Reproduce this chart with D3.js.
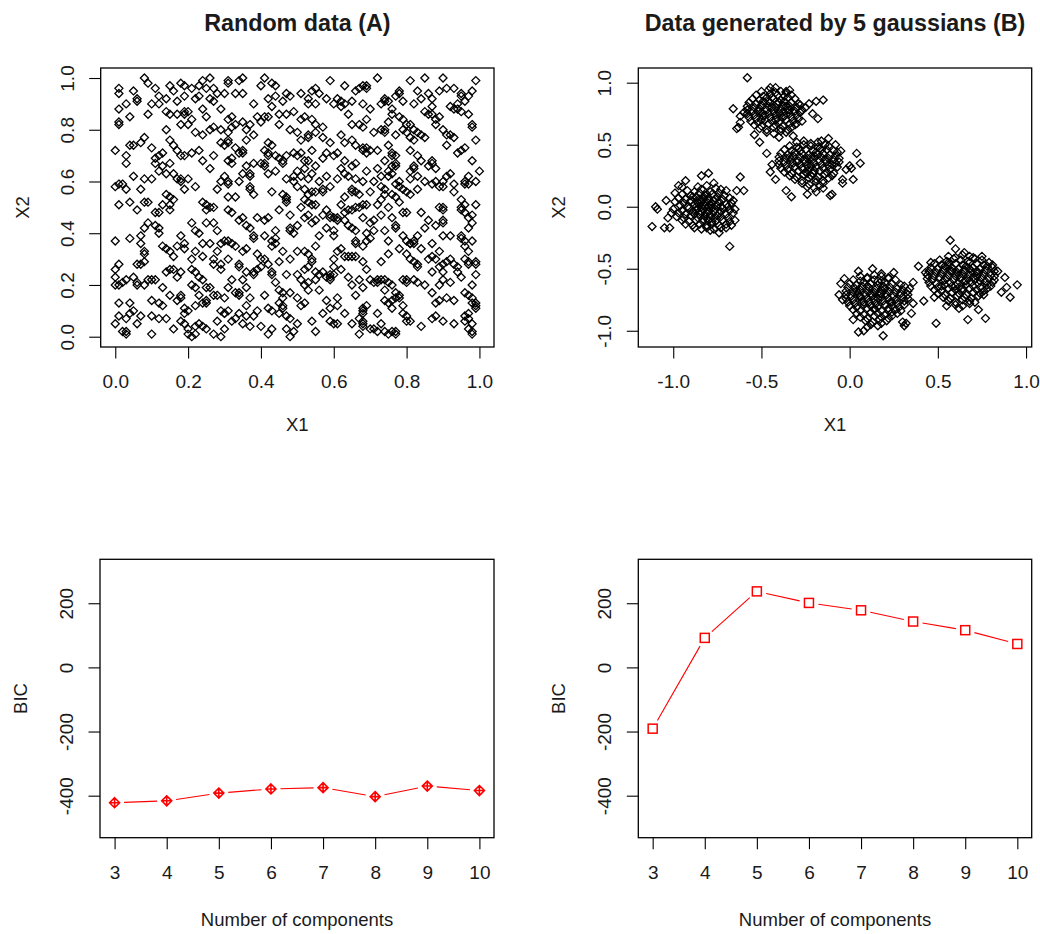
<!DOCTYPE html>
<html>
<head>
<meta charset="utf-8">
<script src="https://cdn.jsdelivr.net/npm/d3@7"></script>
<style>
  body { margin: 0; background: #fff; }
  svg { display: block; }
  text { font-family: "Liberation Sans", Arial, sans-serif; fill: #1a1a1a; }
</style>
</head>
<body>
<svg id="chart" width="1040" height="934"></svg>
<script>
// ---- data ----
const components = [3, 4, 5, 6, 7, 8, 9, 10];
const bicRandom = [-422, -416, -392, -379, -375, -403, -370, -384];
const bicGauss = [-191, 92, 237, 201, 178, 143, 116, 73];

const ticksUnit = [0, 0.2, 0.4, 0.6, 0.8, 1.0];
const ticksB = [-1, -0.5, 0, 0.5, 1];
const ticksBIC = [-400, -200, 0, 200];

// (A) uniform random points
const randomA = [
  [0.00,0.72],[0.01,0.96],[0.01,0.94],[0.01,0.88],[0.03,0.90],[0.05,0.95],[0.04,0.85],[0.06,0.91],[0.06,0.92],[0.01,0.82],
  [0.01,0.83],[0.04,0.74],[0.05,0.74],[0.03,0.70],[0.03,0.67],[0.07,0.75],[0.08,0.77],[0.08,1.00],[0.09,0.98],[0.09,0.86],
  [0.10,0.90],[0.10,0.73],[0.01,0.59],[0.02,0.59],[0.00,0.58],[0.03,0.57],[0.04,0.52],[0.05,0.62],[0.01,0.51],[0.07,0.57],
  [0.08,0.52],[0.09,0.52],[0.06,0.49],[0.08,0.61],[0.10,0.61],[0.09,0.44],[0.08,0.42],[0.07,0.39],[0.04,0.38],[0.00,0.37],
  [0.07,0.36],[0.08,0.33],[0.08,0.32],[0.08,0.29],[0.06,0.28],[0.07,0.28],[0.00,0.26],[0.01,0.28],[0.00,0.23],[0.00,0.20],
  [0.01,0.20],[0.02,0.21],[0.03,0.22],[0.05,0.23],[0.06,0.21],[0.06,0.20],[0.08,0.20],[0.09,0.22],[0.10,0.22],[0.01,0.13],
  [0.04,0.13],[0.05,0.10],[0.04,0.09],[0.07,0.08],[0.01,0.08],[0.03,0.07],[0.00,0.05],[0.06,0.05],[0.02,0.02],[0.03,0.02],
  [0.03,0.01],[0.10,0.01],[0.10,0.08],[0.10,0.14],
  [0.11,0.96],[0.12,0.93],[0.14,0.92],[0.15,0.97],[0.16,0.95],[0.14,0.87],[0.15,0.86],[0.12,0.90],[0.17,0.91],[0.18,0.98],
  [0.19,0.97],[0.19,0.93],[0.17,0.86],[0.19,0.87],[0.20,0.87],[0.19,0.86],[0.18,0.82],[0.20,0.82],[0.14,0.80],[0.15,0.76],
  [0.16,0.74],[0.13,0.71],[0.12,0.70],[0.17,0.72],[0.18,0.70],[0.19,0.70],[0.11,0.69],[0.11,0.67],[0.13,0.66],[0.15,0.67],
  [0.12,0.64],[0.14,0.63],[0.16,0.63],[0.17,0.61],[0.18,0.61],[0.18,0.60],[0.20,0.61],[0.19,0.57],[0.14,0.55],[0.15,0.54],
  [0.13,0.51],[0.15,0.49],[0.15,0.51],[0.11,0.48],[0.12,0.48],[0.16,0.53],[0.11,0.43],[0.12,0.42],[0.12,0.40],[0.13,0.35],
  [0.14,0.34],[0.15,0.33],[0.17,0.35],[0.19,0.34],[0.16,0.31],[0.18,0.39],[0.19,0.36],[0.15,0.26],[0.14,0.25],[0.16,0.26],
  [0.17,0.23],[0.18,0.25],[0.11,0.22],[0.13,0.19],[0.18,0.16],[0.18,0.15],[0.15,0.16],[0.12,0.13],[0.13,0.12],[0.14,0.07],
  [0.12,0.07],[0.17,0.14],[0.19,0.11],[0.19,0.09],[0.20,0.10],[0.18,0.06],[0.19,0.05],[0.20,0.03],[0.20,0.01],[0.16,0.03],
  [0.21,0.96],[0.22,0.92],[0.23,0.93],[0.24,0.99],[0.23,0.97],[0.25,0.96],[0.26,1.00],[0.27,0.96],[0.27,0.91],[0.26,0.92],
  [0.28,0.94],[0.24,0.88],[0.25,0.85],[0.29,0.88],[0.21,0.84],[0.22,0.79],[0.24,0.78],[0.26,0.80],[0.27,0.81],[0.29,0.80],
  [0.23,0.72],[0.21,0.71],[0.24,0.68],[0.27,0.70],[0.29,0.75],[0.26,0.65],[0.29,0.60],[0.28,0.57],[0.22,0.58],[0.24,0.52],
  [0.25,0.51],[0.25,0.49],[0.27,0.50],[0.26,0.50],[0.21,0.44],[0.22,0.41],[0.23,0.40],[0.25,0.44],[0.27,0.44],[0.28,0.41],
  [0.24,0.36],[0.26,0.36],[0.29,0.36],[0.28,0.33],[0.22,0.33],[0.21,0.30],[0.24,0.31],[0.27,0.30],[0.27,0.28],[0.29,0.28],
  [0.29,0.26],[0.21,0.26],[0.22,0.25],[0.23,0.23],[0.24,0.22],[0.21,0.20],[0.22,0.19],[0.25,0.19],[0.26,0.19],[0.23,0.16],
  [0.27,0.16],[0.28,0.16],[0.22,0.12],[0.24,0.13],[0.25,0.14],[0.25,0.13],[0.29,0.10],[0.30,0.09],[0.28,0.06],[0.23,0.05],
  [0.22,0.04],[0.24,0.04],[0.25,0.03],[0.22,0.01],[0.27,0.01],[0.29,0.00],[0.21,0.00],
  [0.31,0.99],[0.31,0.98],[0.30,0.94],[0.34,0.99],[0.35,1.00],[0.33,0.94],[0.35,0.94],[0.32,0.85],[0.31,0.84],[0.33,0.82],
  [0.32,0.81],[0.31,0.79],[0.31,0.76],[0.35,0.83],[0.36,0.80],[0.37,0.82],[0.38,0.90],[0.39,0.85],[0.36,0.76],[0.38,0.78],
  [0.31,0.75],[0.30,0.74],[0.33,0.73],[0.34,0.71],[0.35,0.71],[0.35,0.72],[0.31,0.68],[0.32,0.67],[0.32,0.69],[0.36,0.66],
  [0.38,0.67],[0.30,0.62],[0.31,0.60],[0.31,0.59],[0.34,0.60],[0.35,0.63],[0.37,0.63],[0.37,0.62],[0.37,0.58],[0.37,0.57],
  [0.38,0.55],[0.33,0.54],[0.31,0.54],[0.32,0.48],[0.31,0.49],[0.34,0.45],[0.35,0.46],[0.36,0.43],[0.37,0.42],[0.39,0.46],
  [0.30,0.37],[0.31,0.37],[0.32,0.36],[0.33,0.35],[0.35,0.33],[0.36,0.34],[0.38,0.39],[0.38,0.38],[0.39,0.32],[0.31,0.30],
  [0.34,0.27],[0.34,0.28],[0.36,0.25],[0.38,0.25],[0.38,0.24],[0.39,0.26],[0.32,0.22],[0.31,0.19],[0.33,0.17],[0.34,0.17],
  [0.34,0.16],[0.35,0.22],[0.36,0.19],[0.37,0.15],[0.36,0.12],[0.30,0.15],[0.31,0.10],[0.30,0.09],[0.33,0.07],[0.32,0.06],
  [0.34,0.09],[0.36,0.08],[0.37,0.04],[0.35,0.05],[0.39,0.10],[0.38,0.08],[0.30,0.03],
  [0.40,0.97],[0.41,1.00],[0.43,0.98],[0.44,0.97],[0.42,0.92],[0.44,0.93],[0.43,0.89],[0.46,0.91],[0.47,0.94],[0.48,0.93],
  [0.49,0.87],[0.47,0.86],[0.45,0.86],[0.45,0.82],[0.41,0.85],[0.42,0.85],[0.40,0.83],[0.48,0.80],[0.42,0.75],[0.41,0.72],
  [0.42,0.71],[0.42,0.70],[0.43,0.74],[0.44,0.70],[0.45,0.69],[0.46,0.67],[0.46,0.68],[0.47,0.70],[0.49,0.71],[0.40,0.67],
  [0.41,0.66],[0.41,0.67],[0.42,0.63],[0.44,0.64],[0.47,0.61],[0.49,0.62],[0.49,0.60],[0.43,0.56],[0.46,0.55],[0.47,0.53],
  [0.47,0.52],[0.47,0.54],[0.45,0.49],[0.41,0.45],[0.42,0.46],[0.48,0.47],[0.44,0.41],[0.48,0.42],[0.48,0.41],[0.41,0.39],
  [0.43,0.37],[0.44,0.38],[0.43,0.35],[0.44,0.36],[0.46,0.33],[0.40,0.30],[0.41,0.30],[0.42,0.28],[0.40,0.27],[0.45,0.29],
  [0.43,0.25],[0.43,0.24],[0.48,0.30],[0.47,0.24],[0.44,0.21],[0.45,0.18],[0.46,0.17],[0.41,0.16],[0.46,0.15],[0.46,0.12],
  [0.45,0.13],[0.46,0.11],[0.43,0.10],[0.42,0.11],[0.45,0.09],[0.47,0.08],[0.48,0.07],[0.47,0.03],[0.48,0.00],[0.49,0.02],
  [0.50,0.05],[0.43,0.03],[0.42,0.01],[0.40,0.04],[0.48,0.17],[0.50,0.24],
  [0.51,0.94],[0.53,0.92],[0.54,0.95],[0.55,0.96],[0.56,0.94],[0.53,0.90],[0.55,0.90],[0.59,0.99],[0.58,0.92],[0.60,0.90],
  [0.51,0.84],[0.52,0.85],[0.54,0.84],[0.55,0.82],[0.57,0.81],[0.50,0.79],[0.51,0.76],[0.53,0.78],[0.53,0.77],[0.55,0.79],
  [0.57,0.77],[0.59,0.75],[0.50,0.70],[0.51,0.71],[0.52,0.68],[0.53,0.68],[0.54,0.72],[0.55,0.66],[0.57,0.69],[0.58,0.71],
  [0.50,0.64],[0.51,0.62],[0.52,0.65],[0.54,0.63],[0.53,0.61],[0.56,0.60],[0.58,0.62],[0.50,0.58],[0.52,0.57],[0.53,0.55],
  [0.54,0.56],[0.55,0.56],[0.57,0.57],[0.57,0.56],[0.59,0.58],[0.52,0.53],[0.53,0.52],[0.54,0.51],[0.51,0.50],[0.55,0.51],
  [0.53,0.47],[0.52,0.46],[0.55,0.45],[0.57,0.47],[0.59,0.47],[0.59,0.46],[0.60,0.46],[0.58,0.49],[0.54,0.44],[0.50,0.43],
  [0.49,0.40],[0.58,0.42],[0.60,0.41],[0.60,0.39],[0.56,0.39],[0.52,0.33],[0.53,0.32],[0.55,0.35],[0.54,0.30],[0.54,0.29],
  [0.50,0.33],[0.52,0.26],[0.53,0.27],[0.55,0.25],[0.56,0.24],[0.57,0.25],[0.59,0.24],[0.58,0.23],[0.59,0.22],[0.60,0.27],
  [0.51,0.22],[0.53,0.21],[0.52,0.20],[0.55,0.22],[0.56,0.18],[0.53,0.18],[0.50,0.15],[0.51,0.12],[0.52,0.13],[0.58,0.14],
  [0.59,0.11],[0.57,0.09],[0.59,0.06],[0.60,0.05],[0.54,0.06],[0.55,0.02],
  [0.61,0.92],[0.62,0.91],[0.62,0.89],[0.63,0.90],[0.63,0.97],[0.66,0.95],[0.67,0.96],[0.68,0.97],[0.69,0.97],[0.69,0.96],
  [0.65,0.91],[0.68,0.90],[0.70,0.88],[0.64,0.86],[0.65,0.82],[0.67,0.82],[0.68,0.81],[0.69,0.84],[0.62,0.78],[0.63,0.75],
  [0.65,0.76],[0.66,0.74],[0.68,0.73],[0.68,0.72],[0.69,0.73],[0.69,0.71],[0.70,0.72],[0.61,0.71],[0.60,0.70],[0.63,0.68],
  [0.66,0.67],[0.65,0.66],[0.62,0.65],[0.61,0.61],[0.64,0.62],[0.63,0.63],[0.66,0.61],[0.69,0.64],[0.68,0.60],[0.65,0.57],
  [0.65,0.56],[0.66,0.56],[0.63,0.54],[0.67,0.55],[0.70,0.56],[0.62,0.51],[0.63,0.48],[0.64,0.49],[0.65,0.49],[0.66,0.50],
  [0.67,0.50],[0.68,0.51],[0.69,0.51],[0.61,0.46],[0.61,0.45],[0.63,0.45],[0.64,0.43],[0.65,0.42],[0.66,0.41],[0.68,0.46],
  [0.70,0.44],[0.69,0.40],[0.66,0.37],[0.66,0.36],[0.70,0.38],[0.69,0.37],[0.68,0.35],[0.62,0.34],[0.61,0.33],[0.63,0.31],
  [0.64,0.31],[0.65,0.31],[0.66,0.31],[0.68,0.29],[0.60,0.30],[0.60,0.24],[0.59,0.23],[0.62,0.26],[0.64,0.23],[0.65,0.20],
  [0.67,0.22],[0.69,0.26],[0.68,0.19],[0.70,0.22],[0.61,0.15],[0.61,0.12],[0.66,0.16],[0.68,0.11],[0.68,0.09],[0.68,0.10],
  [0.67,0.07],[0.68,0.06],[0.68,0.05],[0.68,0.04],[0.67,0.01],[0.65,0.05],[0.63,0.09],[0.61,0.05],[0.70,0.03],[0.69,0.12],
  [0.72,1.00],[0.73,0.90],[0.74,0.92],[0.75,0.91],[0.74,0.91],[0.76,0.88],[0.77,0.93],[0.78,0.95],[0.78,0.94],[0.79,0.91],
  [0.76,0.86],[0.78,0.85],[0.79,0.84],[0.80,0.82],[0.73,0.80],[0.74,0.80],[0.74,0.79],[0.75,0.83],[0.77,0.78],[0.79,0.80],
  [0.80,0.79],[0.71,0.79],[0.72,0.72],[0.75,0.74],[0.76,0.71],[0.76,0.70],[0.77,0.70],[0.77,0.67],[0.77,0.66],[0.76,0.66],
  [0.74,0.68],[0.72,0.65],[0.75,0.64],[0.76,0.63],[0.75,0.62],[0.71,0.60],[0.73,0.62],[0.73,0.58],[0.74,0.57],[0.74,0.55],
  [0.77,0.59],[0.78,0.60],[0.78,0.58],[0.79,0.57],[0.80,0.56],[0.76,0.55],[0.77,0.54],[0.72,0.51],[0.73,0.53],[0.75,0.50],
  [0.79,0.48],[0.80,0.48],[0.78,0.52],[0.71,0.45],[0.73,0.47],[0.76,0.46],[0.77,0.43],[0.77,0.42],[0.71,0.41],[0.74,0.41],
  [0.79,0.39],[0.80,0.37],[0.81,0.36],[0.75,0.37],[0.78,0.34],[0.75,0.32],[0.73,0.29],[0.80,0.32],[0.72,0.22],[0.71,0.21],
  [0.72,0.21],[0.73,0.22],[0.74,0.22],[0.75,0.21],[0.76,0.20],[0.79,0.22],[0.80,0.22],[0.80,0.21],[0.74,0.18],[0.76,0.14],
  [0.77,0.15],[0.78,0.16],[0.78,0.15],[0.77,0.17],[0.74,0.14],[0.75,0.13],[0.79,0.12],[0.72,0.09],[0.73,0.05],[0.71,0.03],
  [0.72,0.02],[0.74,0.02],[0.75,0.01],[0.76,0.02],[0.77,0.02],[0.77,0.01],[0.79,0.09],[0.80,0.06],[0.76,0.11],
  [0.81,0.99],[0.83,0.95],[0.85,1.00],[0.86,0.94],[0.87,0.92],[0.89,0.95],[0.90,1.00],[0.82,0.90],[0.84,0.92],[0.85,0.87],
  [0.87,0.89],[0.86,0.86],[0.87,0.86],[0.89,0.85],[0.88,0.84],[0.88,0.82],[0.90,0.80],[0.81,0.82],[0.82,0.80],[0.83,0.79],
  [0.81,0.77],[0.82,0.76],[0.84,0.78],[0.85,0.77],[0.81,0.72],[0.83,0.70],[0.84,0.68],[0.86,0.66],[0.87,0.68],[0.87,0.67],
  [0.88,0.65],[0.82,0.66],[0.82,0.65],[0.81,0.64],[0.81,0.61],[0.83,0.62],[0.85,0.60],[0.87,0.59],[0.88,0.60],[0.90,0.58],
  [0.89,0.58],[0.83,0.57],[0.81,0.55],[0.84,0.48],[0.86,0.45],[0.85,0.42],[0.88,0.43],[0.89,0.50],[0.90,0.49],[0.90,0.50],
  [0.90,0.45],[0.90,0.44],[0.83,0.39],[0.82,0.37],[0.81,0.36],[0.82,0.36],[0.84,0.34],[0.87,0.36],[0.89,0.33],[0.90,0.39],
  [0.81,0.30],[0.82,0.29],[0.83,0.27],[0.83,0.28],[0.86,0.30],[0.87,0.31],[0.88,0.30],[0.90,0.28],[0.90,0.25],[0.82,0.22],
  [0.83,0.21],[0.85,0.20],[0.87,0.25],[0.89,0.27],[0.87,0.17],[0.89,0.20],[0.90,0.22],[0.88,0.13],[0.89,0.14],[0.87,0.07],
  [0.88,0.08],[0.90,0.06],[0.84,0.04],[0.81,0.06],[0.80,0.08],
  [0.91,0.96],[0.93,0.96],[0.95,0.93],[0.95,0.94],[0.94,0.90],[0.96,0.91],[0.98,0.95],[0.97,0.93],[0.99,0.99],[0.92,0.89],
  [0.93,0.88],[0.94,0.88],[0.95,0.87],[0.97,0.86],[0.98,0.82],[0.98,0.81],[0.91,0.78],[0.92,0.78],[0.93,0.77],[0.91,0.74],
  [0.95,0.72],[0.94,0.71],[0.96,0.73],[0.99,0.76],[0.92,0.63],[0.91,0.62],[0.90,0.60],[0.93,0.59],[0.96,0.60],[0.96,0.59],
  [0.97,0.59],[0.97,0.62],[0.99,0.60],[1.00,0.64],[0.98,0.68],[0.93,0.56],[0.95,0.53],[0.96,0.51],[0.95,0.50],[0.95,0.49],
  [0.96,0.48],[0.98,0.47],[0.97,0.46],[0.99,0.51],[0.98,0.44],[0.97,0.42],[0.92,0.39],[0.95,0.39],[0.95,0.38],[0.96,0.37],
  [0.96,0.35],[0.97,0.33],[0.98,0.37],[0.91,0.29],[0.92,0.30],[0.93,0.28],[0.94,0.27],[0.96,0.30],[0.97,0.29],[0.97,0.28],
  [0.99,0.28],[0.99,0.29],[0.94,0.25],[0.95,0.23],[0.99,0.24],[0.98,0.20],[0.91,0.15],[0.93,0.14],[0.96,0.17],[0.97,0.16],
  [0.98,0.15],[0.98,0.13],[0.99,0.12],[0.99,0.11],[0.99,0.13],[0.97,0.09],[0.96,0.08],[0.97,0.07],[0.96,0.06],[0.97,0.03],
  [0.98,0.02],[0.98,0.01],[0.93,0.05],[0.98,0.05],[0.92,0.21]
];

// (B) five gaussian clusters, one array each
const gaussB1 = [
  [-1.12,-0.16],[-1.05,-0.17],[-1.02,-0.17],[-1.10,0.00],[-1.09,-0.02],[-0.68,-0.32],[-0.64,0.13],[-0.60,0.13],[-0.62,0.24],
  [-0.84,0.25],[-0.80,0.27],[-0.93,0.21],[-0.97,0.17],[-0.65,-0.02],[-0.65,-0.11],[-0.74,-0.21],[-0.79,-0.19],[-0.70,-0.17],
  [-1.04,0.05],[-1.01,-0.05],[-1.03,-0.09],[-0.95,0.16],[-0.99,0.11],[-0.67,-0.15],[-0.77,0.19],
  [-0.86,0.16],[-0.81,0.17],[-0.76,0.15],[-0.73,0.14],
  [-0.92,0.13],[-0.88,0.12],[-0.84,0.14],[-0.79,0.12],[-0.74,0.11],[-0.70,0.13],
  [-0.95,0.10],[-0.90,0.09],[-0.85,0.11],[-0.82,0.09],[-0.78,0.10],[-0.75,0.08],[-0.71,0.09],[-0.68,0.07],
  [-0.97,0.07],[-0.93,0.06],[-0.87,0.08],[-0.83,0.06],[-0.80,0.07],[-0.77,0.05],[-0.72,0.06],[-0.66,0.05],
  [-0.99,0.04],[-0.94,0.03],[-0.90,0.05],[-0.86,0.03],[-0.81,0.04],[-0.79,0.02],[-0.74,0.04],[-0.70,0.02],[-0.67,0.03],
  [-0.96,0.01],[-0.92,0.00],[-0.88,0.02],[-0.84,0.00],[-0.82,0.01],[-0.78,-0.01],[-0.75,0.01],[-0.72,-0.01],[-0.69,0.00],
  [-1.00,-0.02],[-0.95,-0.03],[-0.91,-0.01],[-0.87,-0.03],[-0.83,-0.02],[-0.80,-0.04],[-0.76,-0.02],[-0.73,-0.04],[-0.68,-0.03],
  [-0.97,-0.05],[-0.93,-0.06],[-0.89,-0.04],[-0.85,-0.06],[-0.81,-0.05],[-0.79,-0.07],[-0.74,-0.05],[-0.70,-0.06],[-0.66,-0.05],
  [-0.98,-0.08],[-0.94,-0.09],[-0.90,-0.07],[-0.86,-0.09],[-0.82,-0.08],[-0.77,-0.09],[-0.73,-0.08],[-0.69,-0.09],
  [-0.95,-0.11],[-0.91,-0.12],[-0.87,-0.11],[-0.83,-0.12],[-0.80,-0.11],[-0.76,-0.12],[-0.72,-0.11],[-0.68,-0.12],
  [-0.93,-0.14],[-0.89,-0.15],[-0.85,-0.14],[-0.81,-0.15],[-0.78,-0.14],[-0.74,-0.15],[-0.70,-0.14],
  [-0.88,-0.17],[-0.84,-0.18],[-0.81,-0.17],[-0.77,-0.18],[-0.73,-0.17],
  [-0.84,0.04],[-0.80,0.00],[-0.82,-0.06],[-0.86,-0.01],[-0.78,0.03],[-0.83,0.08],[-0.77,-0.04],[-0.88,-0.06],[-0.85,0.06],
  [-0.79,-0.09],[-0.81,0.10],[-0.75,-0.07],[-0.87,0.00],[-0.76,0.06],[-0.83,-0.10],[-0.89,0.08],[-0.73,0.00],[-0.80,0.05],
  [-0.84,-0.04],[-0.78,-0.12]
];
const gaussB2 = [
  [-0.58,1.04],[-0.66,0.79],[-0.64,0.63],[-0.51,0.52],[-0.47,0.43],[-0.19,0.85],[-0.15,0.86],[-0.21,0.75],[-0.18,0.71],
  [-0.45,0.96],[-0.42,0.96],[-0.36,0.93],[-0.34,0.94],[-0.62,0.73],[-0.62,0.68],[-0.60,0.76],[-0.25,0.80],[-0.23,0.83],
  [-0.27,0.69],[-0.32,0.57],[-0.40,0.56],[-0.54,0.58],[-0.63,0.64],
  [-0.50,0.93],[-0.46,0.94],[-0.42,0.92],[-0.39,0.93],[-0.36,0.92],
  [-0.53,0.90],[-0.49,0.89],[-0.45,0.91],[-0.41,0.90],[-0.37,0.89],[-0.33,0.90],
  [-0.55,0.87],[-0.51,0.86],[-0.47,0.88],[-0.43,0.87],[-0.39,0.86],[-0.35,0.88],[-0.31,0.87],
  [-0.57,0.84],[-0.53,0.83],[-0.49,0.85],[-0.45,0.84],[-0.41,0.83],[-0.37,0.85],[-0.33,0.84],[-0.29,0.83],
  [-0.58,0.81],[-0.54,0.80],[-0.50,0.82],[-0.46,0.81],[-0.42,0.80],[-0.38,0.82],[-0.34,0.81],[-0.30,0.80],[-0.28,0.82],
  [-0.58,0.78],[-0.55,0.77],[-0.51,0.79],[-0.47,0.78],[-0.43,0.77],[-0.39,0.79],[-0.35,0.78],[-0.31,0.77],[-0.27,0.78],
  [-0.58,0.75],[-0.54,0.74],[-0.50,0.76],[-0.46,0.75],[-0.42,0.74],[-0.38,0.76],[-0.34,0.75],[-0.30,0.74],[-0.28,0.76],
  [-0.57,0.72],[-0.53,0.71],[-0.49,0.73],[-0.45,0.72],[-0.41,0.71],[-0.37,0.73],[-0.33,0.72],[-0.29,0.71],
  [-0.56,0.69],[-0.52,0.68],[-0.48,0.70],[-0.44,0.69],[-0.40,0.68],[-0.36,0.70],[-0.32,0.69],[-0.30,0.67],
  [-0.54,0.66],[-0.50,0.65],[-0.46,0.67],[-0.42,0.66],[-0.38,0.65],[-0.34,0.67],[-0.31,0.66],
  [-0.51,0.63],[-0.47,0.62],[-0.43,0.64],[-0.39,0.63],[-0.35,0.62],[-0.33,0.64],
  [-0.47,0.60],[-0.43,0.59],[-0.39,0.61],[-0.36,0.60],
  [-0.44,0.80],[-0.40,0.76],[-0.48,0.74],[-0.36,0.81],[-0.52,0.77],[-0.42,0.70],[-0.46,0.85],[-0.38,0.72],[-0.50,0.70],
  [-0.34,0.78],[-0.44,0.88],[-0.40,0.84]
];
const gaussB3 = [
  [0.04,0.43],[0.06,0.35],[0.01,0.31],[0.02,0.22],[-0.33,0.08],[-0.24,0.10],[-0.11,0.09],[-0.10,0.10],[-0.42,0.22],
  [-0.44,0.34],[-0.04,0.22],[-0.04,0.19],[-0.02,0.30],[-0.08,0.50],[-0.05,0.45],[-0.12,0.55],[-0.45,0.28],[-0.36,0.13],
  [-0.19,0.12],[-0.15,0.15],[0.00,0.33],
  [-0.30,0.52],[-0.26,0.53],[-0.22,0.51],[-0.18,0.52],[-0.16,0.53],
  [-0.34,0.49],[-0.30,0.48],[-0.26,0.50],[-0.22,0.49],[-0.18,0.48],[-0.14,0.50],[-0.12,0.49],
  [-0.37,0.46],[-0.33,0.45],[-0.29,0.47],[-0.25,0.46],[-0.21,0.45],[-0.17,0.47],[-0.13,0.46],[-0.09,0.45],
  [-0.39,0.43],[-0.35,0.42],[-0.31,0.44],[-0.27,0.43],[-0.23,0.42],[-0.19,0.44],[-0.15,0.43],[-0.11,0.42],[-0.07,0.44],
  [-0.40,0.40],[-0.36,0.39],[-0.32,0.41],[-0.28,0.40],[-0.24,0.39],[-0.20,0.41],[-0.16,0.40],[-0.12,0.39],[-0.08,0.41],[-0.06,0.39],
  [-0.40,0.37],[-0.37,0.36],[-0.33,0.38],[-0.29,0.37],[-0.25,0.36],[-0.21,0.38],[-0.17,0.37],[-0.13,0.36],[-0.09,0.38],[-0.06,0.36],
  [-0.40,0.34],[-0.36,0.33],[-0.32,0.35],[-0.28,0.34],[-0.24,0.33],[-0.20,0.35],[-0.16,0.34],[-0.12,0.33],[-0.08,0.35],
  [-0.39,0.31],[-0.35,0.30],[-0.31,0.32],[-0.27,0.31],[-0.23,0.30],[-0.19,0.32],[-0.15,0.31],[-0.11,0.30],[-0.07,0.32],
  [-0.37,0.28],[-0.33,0.27],[-0.29,0.29],[-0.25,0.28],[-0.21,0.27],[-0.17,0.29],[-0.13,0.28],[-0.09,0.27],
  [-0.34,0.25],[-0.30,0.24],[-0.26,0.26],[-0.22,0.25],[-0.18,0.24],[-0.14,0.26],[-0.10,0.25],
  [-0.31,0.22],[-0.27,0.21],[-0.23,0.23],[-0.19,0.22],[-0.15,0.21],[-0.12,0.23],
  [-0.27,0.19],[-0.23,0.18],[-0.19,0.20],[-0.15,0.19],
  [-0.24,0.16],[-0.20,0.15],[-0.17,0.17],
  [-0.26,0.38],[-0.22,0.33],[-0.18,0.42],[-0.30,0.36],[-0.20,0.29],[-0.14,0.38],[-0.28,0.45],[-0.24,0.27],[-0.16,0.46],
  [-0.34,0.40],[-0.10,0.34],[-0.22,0.40]
];
const gaussB4 = [
  [-0.05,-0.62],[-0.06,-0.71],[0.05,-1.01],[0.08,-1.00],[0.19,-1.04],[0.31,-0.96],[0.32,-0.94],[0.13,-0.50],[0.05,-0.52],
  [0.36,-0.61],[0.42,-0.76],[0.36,-0.78],[0.02,-0.91],[-0.04,-0.75],[0.34,-0.66],[0.35,-0.86],[0.25,-0.53],[0.18,-0.54],
  [-0.03,-0.58],[0.30,-0.93],[0.10,-0.97],
  [0.06,-0.56],[0.10,-0.57],[0.14,-0.55],[0.18,-0.56],[0.22,-0.57],
  [0.02,-0.59],[0.06,-0.60],[0.10,-0.58],[0.14,-0.59],[0.18,-0.60],[0.22,-0.58],[0.26,-0.59],
  [0.00,-0.62],[0.04,-0.63],[0.08,-0.61],[0.12,-0.62],[0.16,-0.63],[0.20,-0.61],[0.24,-0.62],[0.29,-0.63],
  [-0.01,-0.65],[0.03,-0.66],[0.07,-0.64],[0.11,-0.65],[0.15,-0.66],[0.19,-0.64],[0.23,-0.65],[0.27,-0.66],[0.31,-0.64],
  [-0.02,-0.68],[0.02,-0.69],[0.06,-0.67],[0.10,-0.68],[0.14,-0.69],[0.18,-0.67],[0.22,-0.68],[0.26,-0.69],[0.30,-0.67],[0.33,-0.68],
  [-0.02,-0.71],[0.01,-0.72],[0.05,-0.70],[0.09,-0.71],[0.13,-0.72],[0.17,-0.70],[0.21,-0.71],[0.25,-0.72],[0.29,-0.70],[0.33,-0.71],
  [-0.02,-0.74],[0.02,-0.75],[0.06,-0.73],[0.10,-0.74],[0.14,-0.75],[0.18,-0.73],[0.22,-0.74],[0.26,-0.75],[0.30,-0.73],[0.33,-0.74],
  [-0.01,-0.77],[0.03,-0.78],[0.07,-0.76],[0.11,-0.77],[0.15,-0.78],[0.19,-0.76],[0.23,-0.77],[0.27,-0.78],[0.31,-0.76],
  [0.00,-0.80],[0.04,-0.81],[0.08,-0.79],[0.12,-0.80],[0.16,-0.81],[0.20,-0.79],[0.24,-0.80],[0.28,-0.81],[0.31,-0.79],
  [0.02,-0.83],[0.06,-0.84],[0.10,-0.82],[0.14,-0.83],[0.18,-0.84],[0.22,-0.82],[0.26,-0.83],[0.29,-0.84],
  [0.04,-0.86],[0.08,-0.87],[0.12,-0.85],[0.16,-0.86],[0.20,-0.87],[0.24,-0.85],[0.27,-0.86],
  [0.06,-0.89],[0.10,-0.90],[0.14,-0.88],[0.18,-0.89],[0.22,-0.90],[0.24,-0.88],
  [0.09,-0.92],[0.13,-0.93],[0.17,-0.91],[0.21,-0.92],
  [0.12,-0.95],[0.16,-0.96],[0.18,-0.94],
  [0.12,-0.70],[0.16,-0.74],[0.08,-0.77],[0.20,-0.66],[0.14,-0.82],[0.10,-0.64],[0.24,-0.77],[0.18,-0.70],[0.06,-0.72],
  [0.22,-0.84],[0.04,-0.68],[0.16,-0.60]
];
const gaussB5 = [
  [0.57,-0.27],[0.39,-0.48],[0.49,-0.94],[0.67,-0.91],[0.77,-0.90],[0.95,-0.63],[0.91,-0.73],[0.88,-0.57],[0.86,-0.69],
  [0.89,-0.65],[0.75,-0.40],[0.65,-0.37],[0.46,-0.45],[0.43,-0.53],[0.84,-0.52],[0.81,-0.47],[0.62,-0.82],[0.73,-0.83],
  [0.55,-0.80],[0.48,-0.73],[0.60,-0.34],
  [0.56,-0.40],[0.60,-0.41],[0.64,-0.39],[0.68,-0.40],[0.70,-0.41],
  [0.51,-0.43],[0.55,-0.44],[0.59,-0.42],[0.63,-0.43],[0.67,-0.44],[0.71,-0.42],[0.75,-0.43],
  [0.48,-0.46],[0.52,-0.47],[0.56,-0.45],[0.60,-0.46],[0.64,-0.47],[0.68,-0.45],[0.72,-0.46],[0.76,-0.47],[0.79,-0.45],
  [0.46,-0.49],[0.50,-0.50],[0.54,-0.48],[0.58,-0.49],[0.62,-0.50],[0.66,-0.48],[0.70,-0.49],[0.74,-0.50],[0.78,-0.48],[0.81,-0.49],
  [0.45,-0.52],[0.49,-0.53],[0.53,-0.51],[0.57,-0.52],[0.61,-0.53],[0.65,-0.51],[0.69,-0.52],[0.73,-0.53],[0.77,-0.51],[0.82,-0.52],
  [0.44,-0.55],[0.48,-0.56],[0.52,-0.54],[0.56,-0.55],[0.60,-0.56],[0.64,-0.54],[0.68,-0.55],[0.72,-0.56],[0.76,-0.54],[0.80,-0.55],[0.82,-0.56],
  [0.44,-0.58],[0.47,-0.59],[0.51,-0.57],[0.55,-0.58],[0.59,-0.59],[0.63,-0.57],[0.67,-0.58],[0.71,-0.59],[0.75,-0.57],[0.79,-0.58],[0.82,-0.59],
  [0.45,-0.61],[0.49,-0.62],[0.53,-0.60],[0.57,-0.61],[0.61,-0.62],[0.65,-0.60],[0.69,-0.61],[0.73,-0.62],[0.77,-0.60],[0.81,-0.61],
  [0.46,-0.64],[0.50,-0.65],[0.54,-0.63],[0.58,-0.64],[0.62,-0.65],[0.66,-0.63],[0.70,-0.64],[0.74,-0.65],[0.78,-0.63],[0.80,-0.64],
  [0.48,-0.67],[0.52,-0.68],[0.56,-0.66],[0.60,-0.67],[0.64,-0.68],[0.68,-0.66],[0.72,-0.67],[0.76,-0.68],[0.78,-0.66],
  [0.50,-0.70],[0.54,-0.71],[0.58,-0.69],[0.62,-0.70],[0.66,-0.71],[0.70,-0.69],[0.74,-0.70],[0.76,-0.71],
  [0.53,-0.73],[0.57,-0.74],[0.61,-0.72],[0.65,-0.73],[0.69,-0.74],[0.73,-0.72],
  [0.56,-0.76],[0.60,-0.77],[0.64,-0.75],[0.68,-0.76],[0.71,-0.77],
  [0.60,-0.79],[0.64,-0.80],[0.68,-0.78],
  [0.62,-0.55],[0.66,-0.60],[0.58,-0.52],[0.70,-0.57],[0.60,-0.64],[0.54,-0.59],[0.68,-0.50],[0.64,-0.66],[0.74,-0.60],
  [0.56,-0.47],[0.52,-0.64],[0.72,-0.52]
];

// ---- drawing ----
const svg = d3.select("#chart");
svg.append("rect").attr("width", 1040).attr("height", 934).attr("fill", "#fff");

const fmt1 = (v) => v.toFixed(1);
const fmtInt = (v) => String(v);

function panel(opt) {
  const [x0, y0, x1, y1] = opt.box;
  const x = d3.scaleLinear().domain(opt.xDomain).range([x0, x1]);
  const y = d3.scaleLinear().domain(opt.yDomain).range([y1, y0]);
  const g = svg.append("g");
  const marks = g.append("g");

  const gx = g.append("g")
    .attr("transform", `translate(0,${y1})`)
    .call(d3.axisBottom(x).tickValues(opt.xTicks).tickFormat(opt.xFormat)
      .tickSize(11.5).tickPadding(16).tickSizeOuter(0));
  gx.select(".domain").remove();

  const gy = g.append("g")
    .attr("transform", `translate(${x0},0)`)
    .call(d3.axisLeft(y).tickValues(opt.yTicks).tickFormat(opt.yFormat)
      .tickSize(11.5).tickSizeOuter(0));
  gy.select(".domain").remove();
  gy.selectAll(".tick text")
    .attr("x", 0).attr("dy", 0)
    .attr("text-anchor", "middle")
    .attr("transform", "translate(-27,0) rotate(-90)");

  [gx, gy].forEach((a) => {
    a.attr("font-size", 19).attr("font-family", null).attr("color", "#000");
    a.selectAll(".tick line").attr("stroke-width", 1.1);
    a.selectAll(".tick text").attr("fill", "#1a1a1a");
  });

  g.append("rect")
    .attr("x", x0).attr("y", y0)
    .attr("width", x1 - x0).attr("height", y1 - y0)
    .attr("fill", "none").attr("stroke", "#000").attr("stroke-width", 1.3);

  const cx = (x0 + x1) / 2;
  if (opt.title) {
    g.append("text").attr("x", cx).attr("y", 31)
      .attr("text-anchor", "middle").attr("font-size", 23.3).attr("font-weight", "bold")
      .attr("fill", "#000").text(opt.title);
  }
  g.append("text").attr("x", cx).attr("y", y1 + opt.xlabOffset)
    .attr("text-anchor", "middle").attr("font-size", 18.5).text(opt.xlab);
  g.append("text")
    .attr("transform", `translate(${x0 - opt.ylabOffset},${(y0 + y1) / 2}) rotate(-90)`)
    .attr("text-anchor", "middle").attr("font-size", 18.5).text(opt.ylab);

  return { x, y, marks };
}

const diamond = (r) => `M0,${-r}L${r},0L0,${r}L${-r},0Z`;

function scatter(p, pts) {
  p.marks.append("g").selectAll("path")
    .data(pts)
    .join("path")
    .attr("transform", (d) => `translate(${p.x(d[0])},${p.y(d[1])})`)
    .attr("d", diamond(4))
    .attr("fill", "none")
    .attr("stroke", "#000")
    .attr("stroke-width", 1.3);
}

function bicLine(p, values, marker) {
  const pts = values.map((v, i) => [p.x(components[i]), p.y(v)]);
  const gap = 9.5;
  const segs = [];
  for (let i = 0; i < pts.length - 1; i++) {
    const [ax, ay] = pts[i], [bx, by] = pts[i + 1];
    const len = Math.hypot(bx - ax, by - ay);
    if (len <= 2 * gap) continue;
    const ux = (bx - ax) / len, uy = (by - ay) / len;
    segs.push([ax + ux * gap, ay + uy * gap, bx - ux * gap, by - uy * gap]);
  }
  p.marks.append("g").selectAll("line").data(segs).join("line")
    .attr("x1", (d) => d[0]).attr("y1", (d) => d[1])
    .attr("x2", (d) => d[2]).attr("y2", (d) => d[3])
    .attr("stroke", "#ff0000").attr("stroke-width", 1.1);

  const m = p.marks.append("g").selectAll("g").data(pts).join("g")
    .attr("transform", (d) => `translate(${d[0]},${d[1]})`);
  if (marker === "plus") {
    m.append("path").attr("d", diamond(5) + "M0,-5V5M-5,0H5")
      .attr("fill", "none").attr("stroke", "#ff0000").attr("stroke-width", 1.6);
  } else {
    m.append("rect").attr("x", -4.5).attr("y", -4.5).attr("width", 9).attr("height", 9)
      .attr("fill", "none").attr("stroke", "#ff0000").attr("stroke-width", 1.5);
  }
}

const pA = panel({
  box: [100.7, 68, 494, 347],
  xDomain: [-0.04, 1.04], yDomain: [-0.0398, 1.0387],
  xTicks: ticksUnit, yTicks: ticksUnit, xFormat: fmt1, yFormat: fmt1,
  title: "Random data (A)", xlab: "X1", ylab: "X2", xlabOffset: 84, ylabOffset: 72
});
scatter(pA, randomA);

const pB = panel({
  box: [638.3, 68, 1031.7, 347],
  xDomain: [-1.198, 1.032], yDomain: [-1.131, 1.1185],
  xTicks: ticksB, yTicks: ticksB, xFormat: fmt1, yFormat: fmt1,
  title: "Data generated by 5 gaussians (B)", xlab: "X1", ylab: "X2", xlabOffset: 84, ylabOffset: 73
});
[gaussB1, gaussB2, gaussB3, gaussB4, gaussB5].forEach((c) => scatter(pB, c));

const pC = panel({
  box: [100, 559.3, 494, 837.7],
  xDomain: [2.72, 10.28], yDomain: [-531, 337],
  xTicks: components, yTicks: ticksBIC, xFormat: fmtInt, yFormat: fmtInt,
  xlab: "Number of components", ylab: "BIC", xlabOffset: 88, ylabOffset: 73
});
bicLine(pC, bicRandom, "plus");

const pD = panel({
  box: [638.3, 559.3, 1031.7, 837.7],
  xDomain: [2.724, 10.276], yDomain: [-531, 337],
  xTicks: components, yTicks: ticksBIC, xFormat: fmtInt, yFormat: fmtInt,
  xlab: "Number of components", ylab: "BIC", xlabOffset: 88, ylabOffset: 73
});
bicLine(pD, bicGauss, "square");
</script>
</body>
</html>
